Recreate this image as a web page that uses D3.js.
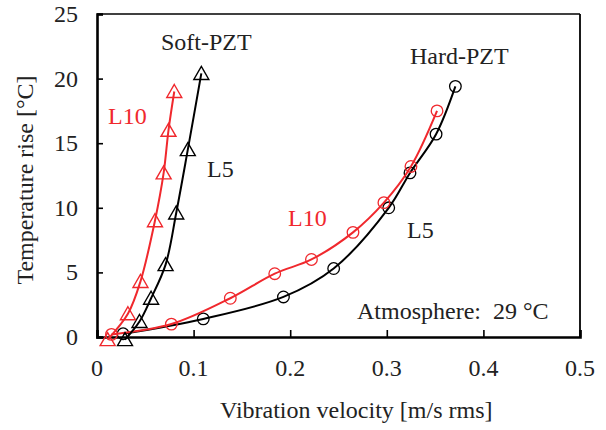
<!DOCTYPE html>
<html>
<head>
<meta charset="utf-8">
<script src="https://cdn.jsdelivr.net/npm/d3@7"></script>
<style>
  body { margin: 0; background: #fff; }
  text { font-family: "Liberation Serif", "Times New Roman", serif; }
</style>
</head>
<body>
<div id="chart"></div>
<script>
var width = 606;
var height = 430;
var margin = {left: 97, right: 26, top: 14, bottom: 93};
var fontSize = "24px";

// x: vibration velocity [m/s rms], y: temperature rise [degC]
var softL10 = [[0.011, -0.2], [0.032, 1.8], [0.045, 4.3], [0.060, 9.0], [0.069, 12.7], [0.074, 16.0], [0.080, 19.0]];
var softL5 = [[0.029, -0.2], [0.044, 1.2], [0.056, 3.0], [0.071, 5.6], [0.082, 9.6], [0.094, 14.5], [0.108, 20.4]];
var hardL10 = [[0.015, 0.2], [0.077, 1.0], [0.138, 3.0], [0.184, 4.9], [0.222, 6.0], [0.265, 8.1], [0.297, 10.4], [0.325, 13.2], [0.352, 17.5]];
var hardL5 = [[0.027, 0.25], [0.110, 1.4], [0.193, 3.1], [0.245, 5.3], [0.302, 10.0], [0.324, 12.7], [0.351, 15.7], [0.371, 19.4]];

var xTicks = [0, 0.1, 0.2, 0.3, 0.4, 0.5];
var yTicks = [0, 5, 10, 15, 20, 25];

var red = "#f0282d";
var black = "#000";

var svg = d3.select("#chart").append("svg")
  .attr("width", width)
  .attr("height", height);

var x = d3.scaleLinear().domain([0, 0.5]).range([margin.left, width - margin.right]);
var y = d3.scaleLinear().domain([0, 25]).range([height - margin.bottom, margin.top]);

var x0 = x(0), x1 = x(0.5), y0 = y(0), y1 = y(25);

// frame: top & right thin, left & bottom thick
svg.append("line").attr("x1", x0).attr("x2", x1).attr("y1", y1).attr("y2", y1)
  .attr("stroke", "#000").attr("stroke-width", 1.5);
svg.append("line").attr("x1", x1).attr("x2", x1).attr("y1", y1).attr("y2", y0)
  .attr("stroke", "#000").attr("stroke-width", 1.8);

// axes with inward ticks
var xAxis = svg.append("g")
  .attr("transform", "translate(0," + y0 + ")")
  .call(d3.axisTop(x).tickValues(xTicks).tickSize(7).tickFormat(""));
var yAxis = svg.append("g")
  .attr("transform", "translate(" + x0 + ",0)")
  .call(d3.axisRight(y).tickValues(yTicks).tickSize(6).tickFormat(""));

[xAxis, yAxis].forEach(function(a) {
  a.select(".domain").attr("stroke", "#000").attr("stroke-width", 2.6);
  a.selectAll(".tick line").attr("stroke", "#000").attr("stroke-width", 1.6);
});

// tick labels
svg.selectAll(".xlab")
  .data(xTicks)
  .enter()
  .append("text")
  .attr("x", function(d) { return x(d); })
  .attr("y", 376)
  .attr("text-anchor", "middle")
  .attr("font-size", fontSize)
  .attr("fill", "#222")
  .text(function(d) { return d; });

svg.selectAll(".ylab")
  .data(yTicks)
  .enter()
  .append("text")
  .attr("x", 78)
  .attr("y", function(d) { return y(d) + 8; })
  .attr("text-anchor", "end")
  .attr("font-size", fontSize)
  .attr("fill", "#222")
  .text(function(d) { return d; });

// axis titles
svg.append("text")
  .attr("x", 220)
  .attr("y", 418)
  .attr("font-size", fontSize)
  .attr("fill", "#222")
  .text("Vibration velocity [m/s rms]");

svg.append("text")
  .attr("transform", "translate(33," + 180 + ") rotate(-90)")
  .attr("text-anchor", "middle")
  .attr("font-size", fontSize)
  .attr("fill", "#222")
  .text("Temperature rise [°C]");

// curves
var line = d3.line()
  .x(function(d) { return x(d[0]); })
  .y(function(d) { return y(d[1]); })
  .curve(d3.curveCatmullRom.alpha(0.5));

function drawSeries(data, color, shape) {
  svg.append("path")
    .datum(data)
    .attr("d", line)
    .attr("fill", "none")
    .attr("stroke", color)
    .attr("stroke-width", 2);

  var g = svg.append("g");
  if (shape == "triangle") {
    g.selectAll("path")
      .data(data)
      .enter()
      .append("path")
      .attr("d", function(d) {
        var cx = x(d[0]), cy = y(d[1]);
        return "M" + cx + "," + (cy - 7) + "L" + (cx + 7.5) + "," + (cy + 6) + "L" + (cx - 7.5) + "," + (cy + 6) + "Z";
      })
      .attr("fill", "none")
      .attr("stroke", color)
      .attr("stroke-width", 1.4);
  } else {
    g.selectAll("circle")
      .data(data)
      .enter()
      .append("circle")
      .attr("cx", function(d) { return x(d[0]); })
      .attr("cy", function(d) { return y(d[1]); })
      .attr("r", 5.8)
      .attr("fill", "none")
      .attr("stroke", color)
      .attr("stroke-width", 1.3);
  }
}

drawSeries(hardL5, black, "circle");
drawSeries(hardL10, red, "circle");
drawSeries(softL5, black, "triangle");
drawSeries(softL10, red, "triangle");

// annotations
var notes = [
  {t: "Soft-PZT", x: 161, y: 50, c: "#222"},
  {t: "L10", x: 108, y: 124, c: red},
  {t: "L5", x: 207, y: 177, c: "#222"},
  {t: "Hard-PZT", x: 410, y: 64, c: "#222"},
  {t: "L10", x: 288, y: 226, c: red},
  {t: "L5", x: 407, y: 238, c: "#222"},
  {t: "Atmosphere:  29 °C", x: 357, y: 319, c: "#222"}
];

svg.selectAll(".note")
  .data(notes)
  .enter()
  .append("text")
  .attr("x", function(d) { return d.x; })
  .attr("y", function(d) { return d.y; })
  .attr("font-size", fontSize)
  .attr("fill", function(d) { return d.c; })
  .attr("xml:space", "preserve")
  .style("white-space", "pre")
  .text(function(d) { return d.t; });
</script>
</body>
</html>
